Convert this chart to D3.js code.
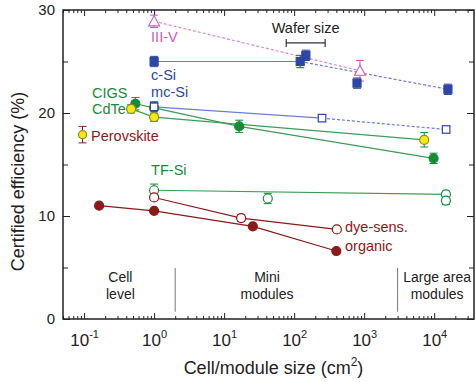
<!DOCTYPE html>
<html>
<head>
<meta charset="utf-8">
<script src="https://cdn.jsdelivr.net/npm/d3@7/dist/d3.min.js"></script>
<style>
  html, body { margin: 0; padding: 0; background: #fff; }
  svg { display: block; font-family: "Liberation Sans", Arial, sans-serif; }
</style>
</head>
<body>
<svg id="chart" width="476" height="382"></svg>
<script>
// ---- data: cell/module size (cm^2), certified efficiency (%), uncertainty (%) ----
const iiiVSize = [1, 870];
const iiiVEff  = [28.9, 24.1];
const iiiVErr  = [0.6, 1.0];

const cSiSize = [1, 122, 147, 790, 15700];
const cSiEff  = [25.0, 25.0, 25.6, 22.9, 22.3];
const cSiErr  = [0.5, 0.6, 0.5, 0.5, 0.5];

const mcSiSize = [1, 250, 14800];
const mcSiEff  = [20.6, 19.5, 18.4];
const mcSiErr  = [0.4, 0.3, 0.3];

const cigsSize = [0.54, 1, 16.4, 9800];
const cigsEff  = [20.9, 20.5, 18.7, 15.6];
const cigsErr  = [0.6, 0.6, 0.6, 0.5];

const cdteSize = [0.47, 1, 7200];
const cdteEff  = [20.4, 19.6, 17.4];
const cdteErr  = [0.4, 0.4, 0.7];

const perovSize = [0.095];
const perovEff  = [17.9];
const perovErr  = [0.8];

const tfSiSize = [1, 42, 14700, 14700];
const tfSiEff  = [12.5, 11.7, 12.1, 11.5];
const tfSiErr  = [0.6, 0.5, 0.3, 0.4];

const dyeSize = [1, 17.5, 407];
const dyeEff  = [11.8, 9.8, 8.7];
const dyeErr  = [0.3, 0.3, 0.2];

const orgSize = [0.164, 1, 25.7, 400];
const orgEff  = [11.0, 10.5, 9.0, 6.6];
const orgErr  = [0.2, 0.2, 0.2, 0.2];

// size classes and the wafer-size span
const regionBounds = [2, 3000];
const regionNames  = [["Cell", "level"], ["Mini", "modules"], ["Large area", "modules"]];
const regionCenters = [0.33, 41, 11000];
const waferSpan = [77, 277];
const waferEff = 26.8;

const xMajor = [0.1, 1, 10, 100, 1000, 10000];
const yMajor = [0, 10, 20, 30];
const yMinor = [5, 15, 25];

// ---- layout ----
const svg = d3.select("#chart");
const L = 63, R = 474, T = 10, B = 319;
const x = d3.scaleLog().domain([0.05, 37000]).range([L, R]);
const y = d3.scaleLinear().domain([0, 30]).range([B, T]);

const col = {
  pink: "#c75bbd", pinkLine: "#d98ad2",
  blue: "#2b46a6", blueLine: "#6a7ed0",
  green: "#178a3a", greenLine: "#3d9c56",
  red: "#8a1a1a", yellow: "#f4ea10"
};

const pts = (s, e, r) => s.map((v, i) => ({ s: v, e: e[i], r: r[i] }));
const line = d3.line().x(d => x(d.s)).y(d => y(d.e));

// minor ticks on the log axis
const xMinor = [];
[0.01, 0.1, 1, 10, 100, 1000, 10000].forEach(dec => {
  for (let k = 2; k <= 9; k++) {
    const v = dec * k;
    if (v >= 0.05 && v <= 37000) xMinor.push(v);
  }
});

// ---- axes ticks (inward) ----
const g = svg.append("g");
g.append("g").attr("transform", `translate(0,${B})`)
  .call(d3.axisBottom(x).tickValues(xMinor).tickSize(-3).tickFormat(""));
g.append("g").attr("transform", `translate(0,${T})`)
  .call(d3.axisTop(x).tickValues(xMinor).tickSize(-3).tickFormat(""));
g.append("g").attr("transform", `translate(0,${T})`)
  .call(d3.axisTop(x).tickValues(xMajor).tickSize(-6).tickFormat(""));
const xAx = g.append("g").attr("transform", `translate(0,${B})`)
  .call(d3.axisBottom(x).tickValues(xMajor).tickSize(-6).tickPadding(15));
g.append("g").attr("transform", `translate(${L},0)`)
  .call(d3.axisLeft(y).tickValues(yMinor).tickSize(-5).tickFormat(""));
g.append("g").attr("transform", `translate(${R},0)`)
  .call(d3.axisRight(y).tickValues(yMinor).tickSize(-5).tickFormat(""));
g.append("g").attr("transform", `translate(${R},0)`)
  .call(d3.axisRight(y).tickValues(yMajor).tickSize(-7).tickFormat(""));
const yAx = g.append("g").attr("transform", `translate(${L},0)`)
  .call(d3.axisLeft(y).tickValues(yMajor).tickSize(-7).tickPadding(8).tickFormat(d3.format("d")));

g.selectAll(".domain").remove();
g.selectAll(".tick line").attr("stroke", "#222").attr("stroke-width", 1);

yAx.selectAll(".tick text").attr("font-size", 15).attr("fill", "#222")
  .attr("font-family", "Liberation Sans, Arial, sans-serif");
xAx.selectAll(".tick text").each(function (d) {
  const t = d3.select(this).text("")
    .attr("font-size", 17).attr("fill", "#222")
    .attr("font-family", "Liberation Sans, Arial, sans-serif");
  t.append("tspan").text("10");
  t.append("tspan").attr("font-size", 11).attr("dy", "-0.75em")
    .text(String(Math.round(Math.log10(d))));
});

// frame
svg.append("rect").attr("x", L).attr("y", T).attr("width", R - L).attr("height", B - T)
  .attr("fill", "none").attr("stroke", "#222").attr("stroke-width", 1.5);

// axis titles
svg.append("text").attr("x", (L + R) / 2 + 5).attr("y", 374).attr("text-anchor", "middle")
  .attr("font-size", 18).attr("fill", "#222")
  .html("Cell/module size (cm<tspan font-size='12' dy='-8'>2</tspan><tspan dy='8'>)</tspan>");
svg.append("text").attr("transform", `translate(24,${(T + B) / 2 + 17}) rotate(-90)`)
  .attr("text-anchor", "middle").attr("font-size", 18).attr("fill", "#222")
  .text("Certified efficiency (%)");

// ---- size-class dividers and names ----
regionBounds.forEach(v => {
  svg.append("line").attr("x1", x(v)).attr("x2", x(v))
    .attr("y1", y(4.95)).attr("y2", y(0.7))
    .attr("stroke", "#777").attr("stroke-width", 1);
});
regionNames.forEach((lines, i) => {
  const t = svg.append("text").attr("text-anchor", "middle").attr("font-size", 14).attr("fill", "#222");
  lines.forEach((s, j) => {
    t.append("tspan").attr("x", x(regionCenters[i])).attr("y", 282 + j * 17).text(s);
  });
});

// wafer size span
const wy = y(waferEff);
svg.append("path")
  .attr("d", `M${x(waferSpan[0])},${wy - 4}V${wy + 4}M${x(waferSpan[0])},${wy}H${x(waferSpan[1])}M${x(waferSpan[1])},${wy - 4}V${wy + 4}`)
  .attr("stroke", "#333").attr("stroke-width", 1.2).attr("fill", "none");
svg.append("text").attr("x", (x(waferSpan[0]) + x(waferSpan[1])) / 2).attr("y", 33)
  .attr("text-anchor", "middle").attr("font-size", 14.5).attr("fill", "#222").text("Wafer size");

// ---- connecting lines ----
const plot = svg.append("g");
function drawLine(data, color, dash) {
  plot.append("path").datum(data).attr("d", line)
    .attr("fill", "none").attr("stroke", color).attr("stroke-width", 1.2)
    .attr("stroke-dasharray", dash || null);
}
const iiiV = pts(iiiVSize, iiiVEff, iiiVErr);
const cSi = pts(cSiSize, cSiEff, cSiErr);
const mcSi = pts(mcSiSize, mcSiEff, mcSiErr);
const cigs = pts(cigsSize, cigsEff, cigsErr);
const cdte = pts(cdteSize, cdteEff, cdteErr);
const perov = pts(perovSize, perovEff, perovErr);
const tfSi = pts(tfSiSize, tfSiEff, tfSiErr);
const dye = pts(dyeSize, dyeEff, dyeErr);
const org = pts(orgSize, orgEff, orgErr);

drawLine(iiiV, col.pinkLine, "3,2");
drawLine(cSi.slice(0, 2), col.blueLine);
drawLine([cSi[1], cSi[4]], col.blueLine, "3,2");
drawLine(mcSi.slice(0, 2), col.blueLine);
drawLine(mcSi.slice(1, 3), col.blueLine, "3,2");
drawLine(cigs, col.greenLine);
drawLine(cdte, col.greenLine);
drawLine([tfSi[0], tfSi[2]], col.greenLine);
drawLine(dye, col.red);
drawLine(org, col.red);

// ---- error bars ----
function errBars(data, color) {
  data.forEach(d => {
    const cx = x(d.s), y0 = y(d.e - d.r), y1 = y(d.e + d.r);
    plot.append("path")
      .attr("d", `M${cx},${y0}V${y1}M${cx - 4},${y0}H${cx + 4}M${cx - 4},${y1}H${cx + 4}`)
      .attr("stroke", color).attr("stroke-width", 1).attr("fill", "none");
  });
}

// ---- markers ----
function circles(data, fill, stroke, r = 4.5) {
  plot.append("g").selectAll("circle").data(data).join("circle")
    .attr("cx", d => x(d.s)).attr("cy", d => y(d.e)).attr("r", r)
    .attr("fill", fill).attr("stroke", stroke).attr("stroke-width", 1.2);
}
function squares(data, fill, stroke, s = 8) {
  plot.append("g").selectAll("rect").data(data).join("rect")
    .attr("x", d => x(d.s) - s / 2).attr("y", d => y(d.e) - s / 2)
    .attr("width", s).attr("height", s)
    .attr("fill", fill).attr("stroke", stroke).attr("stroke-width", 1.2);
}
function triangles(data, color) {
  plot.append("g").selectAll("path").data(data).join("path")
    .attr("transform", d => `translate(${x(d.s)},${y(d.e)})`)
    .attr("d", "M0,-5.5L5.5,4.5L-5.5,4.5Z")
    .attr("fill", "#fff").attr("stroke", color).attr("stroke-width", 1.1);
}

errBars(iiiV, col.pink); triangles(iiiV, col.pink);
errBars(cigs, col.green); circles(cigs, col.green, col.green);
errBars(cdte, col.green); circles(cdte, col.yellow, "#8f8a20");
errBars(cSi, col.blue); squares(cSi, col.blue, col.blue);
errBars(mcSi, col.blue); squares(mcSi, "#fff", col.blue, 7.5);
errBars(perov, col.red); circles(perov, col.yellow, "#8f8a20", 4);
errBars(tfSi, col.green); circles(tfSi, "#fff", col.green);
errBars(dye, col.red); circles(dye, "#fff", col.red);
circles(org, col.red, col.red);

// ---- series names ----
const names = [
  ["III-V", col.pink, x(1) - 3, 42],
  ["c-Si", col.blue, x(1) - 3, 80],
  ["mc-Si", col.blue, x(1) - 3, 97],
  ["CIGS", col.green, 92, 98],
  ["CdTe", col.green, 92, 114],
  ["Perovskite", col.red, 91, 140.5],
  ["TF-Si", col.green, x(1) - 3, 175],
  ["dye-sens.", col.red, 345, 232],
  ["organic", col.red, 345, 251]
];
names.forEach(([t, c, tx, ty]) => {
  svg.append("text").attr("x", tx).attr("y", ty).attr("font-size", 14.5).attr("fill", c).text(t);
});
</script>
</body>
</html>
